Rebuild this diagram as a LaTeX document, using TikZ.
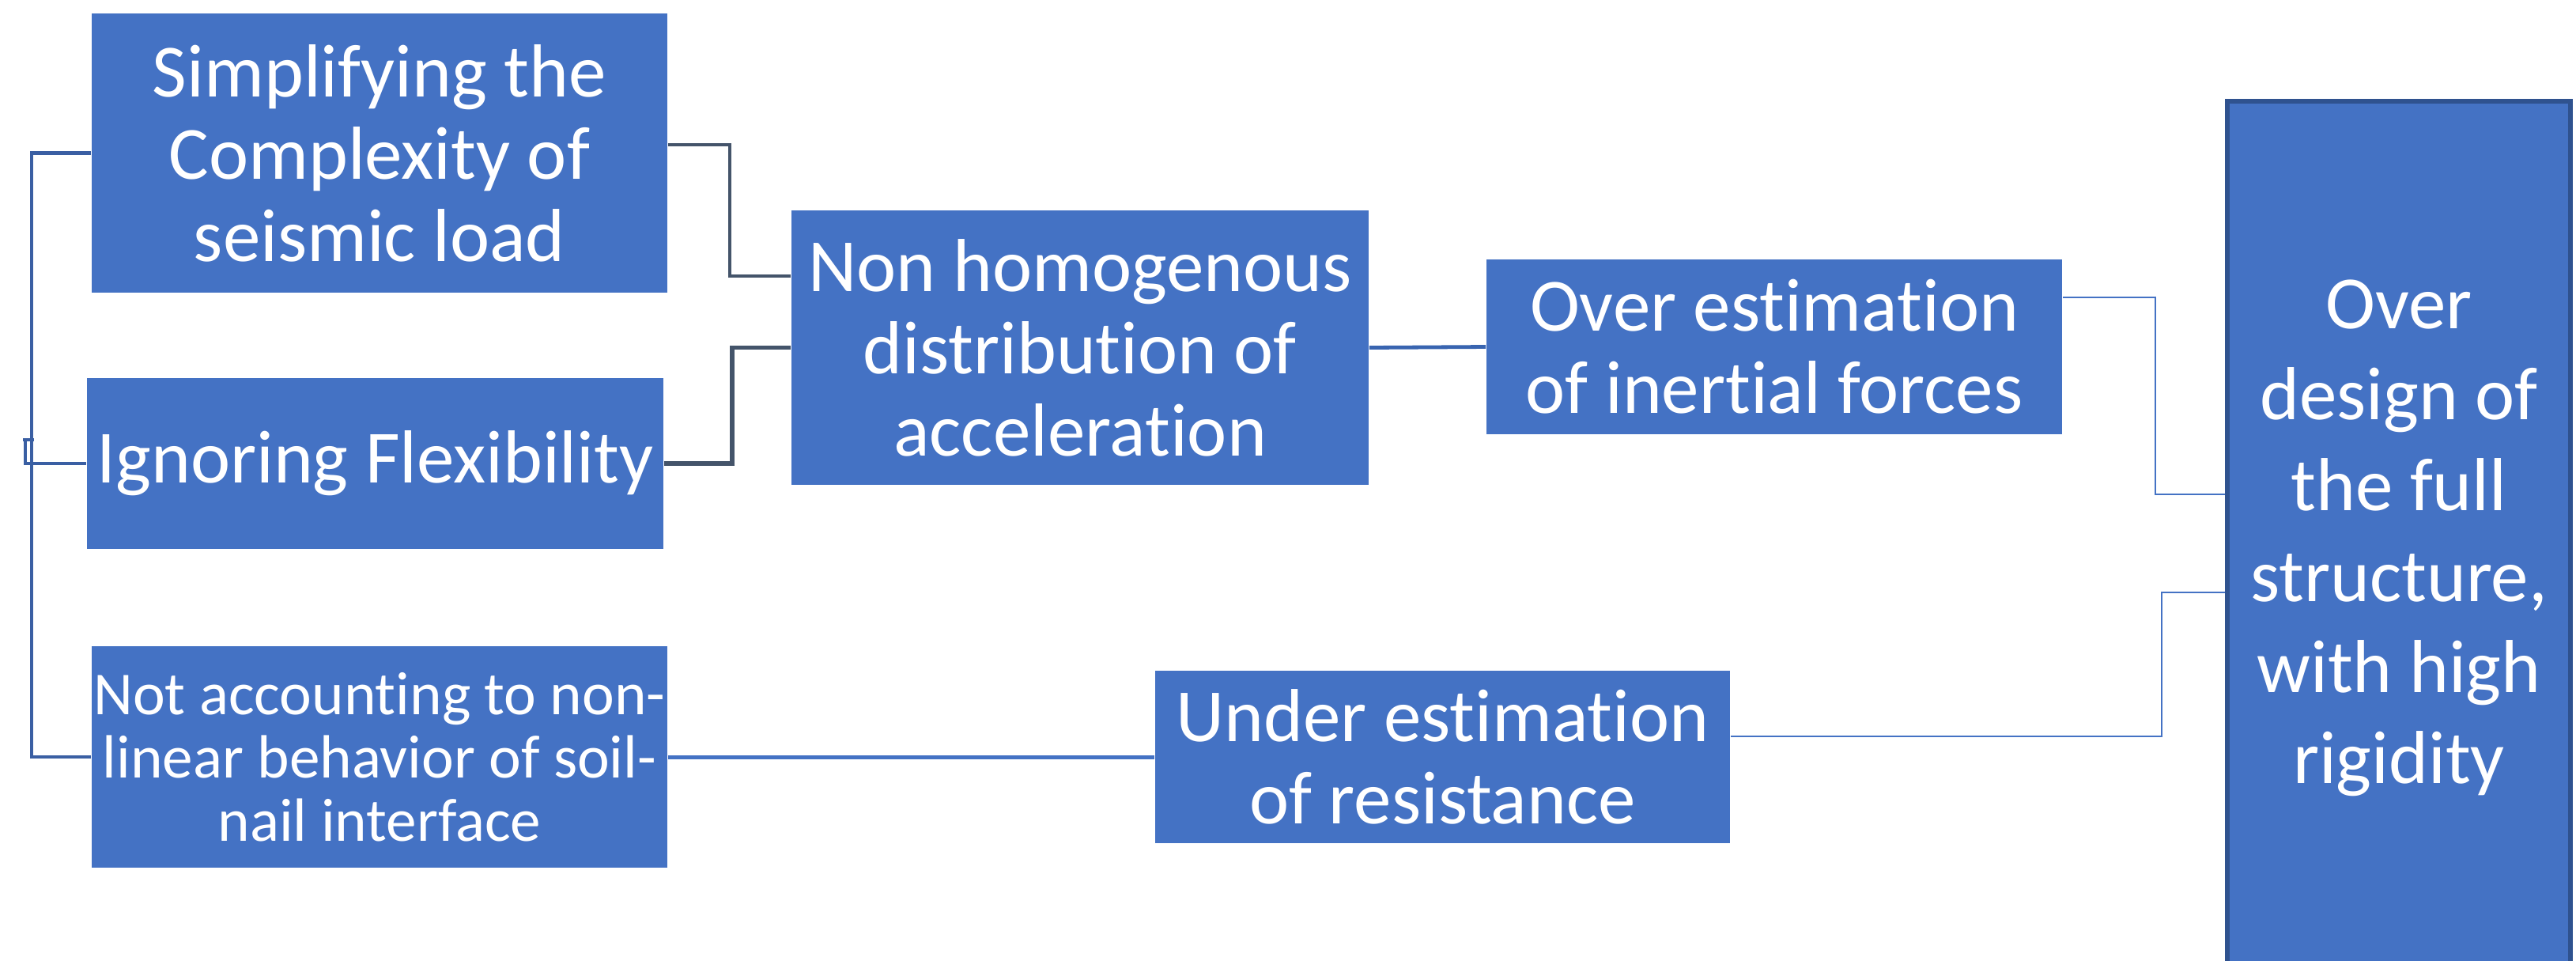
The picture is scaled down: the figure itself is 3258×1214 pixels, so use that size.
\documentclass[tikz,border=0pt]{standalone}
\usepackage{fontspec}
\setmainfont{Carlito}[Ligatures=NoCommon]
\definecolor{boxblue}{HTML}{4472C4}
\definecolor{brkblue}{HTML}{3A5FA3}
\definecolor{slate}{HTML}{44546A}
\definecolor{midblue}{HTML}{3864B0}
\definecolor{gborder}{HTML}{2F528F}
\tikzset{
  bx/.style={fill=boxblue, text=white, inner sep=0pt, align=center, anchor=center,
    font=\fontsize{23.75}{26}\selectfont},
  brk/.style={draw=brkblue, line width=1.1pt},
  lnslate/.style={draw=slate, line width=0.8pt},
  lnslatethick/.style={draw=slate, line width=1.35pt},
  lnmid/.style={draw=midblue, line width=1.2pt},
  lnblue/.style={draw=boxblue, line width=1.25pt},
  lnthin/.style={draw=boxblue, line width=0.45pt},
}
\begin{document}
\begin{tikzpicture}[x=0.25pt, y=-0.25pt]
\useasboundingbox (0,0) rectangle (3258,1214);
\clip (0,0) rectangle (3258,1214);
\fill[white] (0,0) rectangle (3258,1214);

\node[bx, minimum width=182pt, minimum height=88.25pt] (A) at (480,193.5) {Simplifying the\\Complexity of\\seismic load};
\node[bx, minimum width=182.25pt, minimum height=54pt] (B) at (474.5,586) {Ignoring Flexibility};
\node[bx, minimum width=182pt, minimum height=70pt, font=\fontsize{19.3}{20}\selectfont] (C) at (480,957) {Not accounting to non-\\linear behavior of soil-\\nail interface};
\node[bx, minimum width=182.5pt, minimum height=86.75pt] (D) at (1366,439.5) {Non homogenous\\distribution of\\acceleration};
\node[bx, minimum width=182pt, minimum height=55.25pt] (E) at (2244,438.5) {Over estimation\\of inertial forces};
\node[bx, minimum width=181.75pt, minimum height=54.5pt] (F) at (1824.5,957) {Under estimation\\of resistance};
\node[bx, draw=gborder, line width=1.4pt, minimum width=108.5pt, minimum height=276pt, font=\fontsize{23.75}{28.75}\selectfont] (G) at (3034,680) {Over\\design of\\the full\\structure,\\with high\\rigidity};

% left bracket
\coordinate (bt) at (40,193.5);
\coordinate (bb) at (40,957);
\draw[brk] (A.west) -- (bt) -- (bb) -- (C.west);
\draw[brk] (29,556) -- (43,556);
\draw[brk] (32,556) |- (B.west);

% middle connectors
\draw[lnslate] (A.east |- 0,183) -| (923,349) -- (D.west |- 0,349);
\draw[lnslatethick] (B.east) -| (926,439.5) -- (D.west);
\draw[lnmid] (D.east) -- (E.west);
\draw[lnblue] (C.east) -- (F.west);

% right connectors
\draw[lnthin] (E.east |- 0,376) -| (2726,625) -- (G.west |- 0,625);
\draw[lnthin] (F.east |- 0,931) -| (2734,749) -- (G.west |- 0,749);
\end{tikzpicture}
\end{document}
